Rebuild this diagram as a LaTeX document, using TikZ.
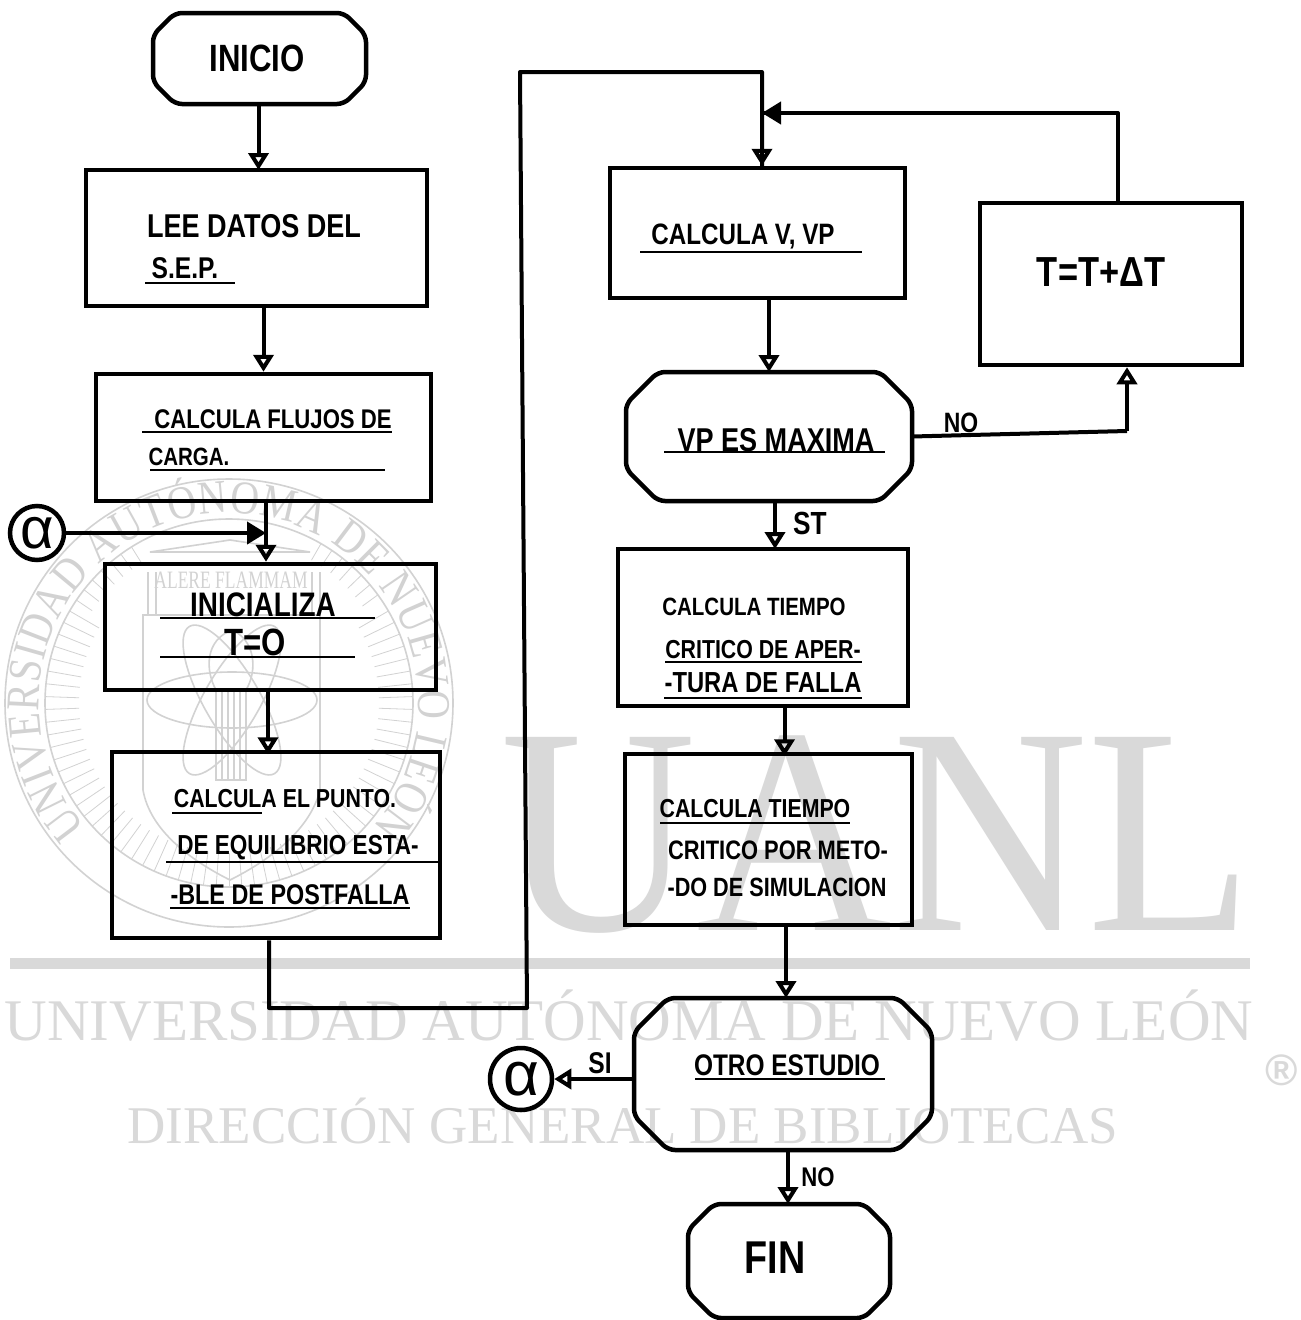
\documentclass[tikz,border=0pt]{standalone}
\usepackage{fontspec}
\setmainfont{Liberation Sans}
\newfontfamily\hand[FakeStretch=.82]{Liberation Sans}
\newfontfamily\wm{Liberation Serif}
\newfontfamily\wmbig[FakeStretch=.92]{Liberation Serif}
\newfontfamily\wmnarrow[FakeStretch=.7]{Liberation Serif}
\newfontfamily\wmseal[FakeStretch=.85]{Liberation Serif}
\usetikzlibrary{arrows.meta,decorations.text,calc}
\definecolor{wmgray}{HTML}{D9D9D9}
\definecolor{sealgray}{HTML}{D2D2D2}
\tikzset{
  boxn/.style={draw=black,line width=4.5pt,rectangle,minimum width=#1,inner sep=0pt},
  boxh/.style={minimum height=#1},
  cbox/.style={rectangle,inner sep=0pt,outer sep=0pt},
  chamline/.style={draw=black,line width=4.5pt,line join=round,rounded corners=7pt},
  conn/.style={draw=black,line width=4pt},
  arr/.style={conn,-{Triangle[open,length=17pt,width=20pt,line width=4pt]}},
  arrf/.style={conn,-{Triangle[length=19pt,width=22pt]}},
  hw/.style={font=\hand\bfseries\fontsize{#1}{#1}\selectfont,text=black,inner sep=0pt},
  ul/.style={draw=black,line width=1.6pt},
  alph/.style={draw=black,line width=4.5pt,circle,inner sep=0pt,font=\fontsize{#1}{#1}\selectfont},
  wmt/.style={text=wmgray,inner sep=0pt,anchor=base},
  seal/.style={draw=sealgray,line width=1.6pt},
}
\newcommand{\chamf}[2]{%
  \draw[chamline] ($(#1.north west)+(#2,0)$) -- ($(#1.north east)+(-#2,0)$)
    -- ($(#1.north east)+(0,#2)$) -- ($(#1.south east)+(0,-#2)$)
    -- ($(#1.south east)+(-#2,0)$) -- ($(#1.south west)+(#2,0)$)
    -- ($(#1.south west)+(0,-#2)$) -- ($(#1.north west)+(0,#2)$) -- cycle;}
\begin{document}
\begin{tikzpicture}[x=1pt,y=-1pt]
\fill[white] (0,0) rectangle (1301,1320);
\useasboundingbox (0,0) rectangle (1301,1320);
% ---- watermark
\node[wmt,font=\wmbig\fontsize{295}{295}\selectfont] (wuanl) at (877,930) {UANL};
\fill[wmgray] (10,958) rectangle (1250,969);
\node[wmt,font=\wm\fontsize{59}{59}\selectfont] (wuniv) at (629,1040) {UNIVERSIDAD AUTÓNOMA DE NUEVO LEÓN};
\node[wmt,font=\wm\fontsize{53}{53}\selectfont] (wdir) at (623,1143) {DIRECCIÓN GENERAL DE BIBLIOTECAS};
\node[wmt,font=\bfseries\fontsize{44}{44}\selectfont] (wreg) at (1282,1085) {®};
% seal
\coordinate (sc) at (229,703);
\draw[seal] (sc) circle (224);
\draw[seal] (sc) circle (184);
\foreach \a in {-30,-26,...,210}{
  \draw[sealgray,line width=.8pt] ($(sc)+(\a:184)$) -- ($(sc)+(\a:150)$);
}
\foreach \a in {214,218,...,240,300,304,...,326}{
  \draw[sealgray,line width=.8pt] ($(sc)+(\a:184)$) -- ($(sc)+(\a:165)$);
}
\path[shift={(229,703)},decorate,decoration={text along path,text align={fit to path},
  text={|\wmseal\fontsize{47}{47}\selectfont\color{sealgray}|UNIVERSIDAD AUTÓNOMA DE NUEVO LEÓN}}]
  plot[domain=139:401,samples=100] (\x:190);
\draw[seal] (143,615) -- (143,790) .. controls (150,830) and (190,860) .. (230,880)
   .. controls (270,860) and (310,830) .. (320,790) -- (320,615) -- cycle;
\draw[seal] (150,552) -- (230,540) -- (310,552) -- cycle;
\foreach \x in {148,312}{\draw[seal] (\x,572) -- (\x,615);\draw[seal] (\x+8,572) -- (\x+8,615);}
\node[text=sealgray,inner sep=0pt,font=\wmnarrow\fontsize{25}{25}\selectfont] (wal) at (231,580) {ALERE FLAMMAM};
\foreach \r in {0,60,120}{
  \draw[seal] (232,700) ellipse[x radius=85,y radius=28,rotate=\r];
}
\draw[seal] (216,690) rectangle (246,780);
\foreach \x in {222,228,234,240}{\draw[seal] (\x,690) -- (\x,780);}
\draw[seal] (232,630) .. controls (205,640) and (205,670) .. (216,690) -- (246,690) .. controls (258,670) and (255,640) .. (232,630);
% ---- boxes
\node[cbox,minimum width=213,minimum height=91] (ini) at (259.5,58.5) {};
\chamf{ini}{22}
\node[boxn=341,boxh=136] (lee) at (256.5,238) {};
\node[boxn=335,boxh=127] (flu) at (263.5,437.5) {};
\node[boxn=331,boxh=126] (inz) at (270.5,627) {};
\node[boxn=328,boxh=186] (pto) at (276,845) {};
\node[alph=58,minimum size=54] (a1) at (37,533) {α};
\node[boxn=295,boxh=130] (cv) at (757.5,233) {};
\node[cbox,minimum width=286,minimum height=129] (vp) at (769,436.5) {};
\chamf{vp}{32}
\node[boxn=262,boxh=162] (tt) at (1111,284) {};
\node[boxn=290,boxh=157] (ct) at (763,627.5) {};
\node[boxn=287,boxh=171] (cs) at (768.5,839.5) {};
\node[cbox,minimum width=298,minimum height=152] (ot) at (783,1074) {};
\chamf{ot}{34}
\node[cbox,minimum width=202,minimum height=114] (fin) at (789,1261) {};
\chamf{fin}{26}
\node[alph=62,minimum size=62] (a2) at (521,1079) {α};
% ---- labels
\node[hw=38] (t1) at (257,58) {INICIO};
\node[hw=33] (t2) at (254,226) {LEE DATOS DEL};
\node[hw=30] (t3) at (185,268) {S.E.P.};
\node[hw=27] (t4) at (273,419) {CALCULA FLUJOS DE};
\node[hw=25] (t5) at (189,457) {CARGA.};
\node[hw=34] (t6) at (263,605) {INICIALIZA};
\node[hw=38] (t7) at (255,642) {T=O};
\node[hw=26] (t8) at (285,799) {CALCULA EL PUNTO.};
\node[hw=27.5] (t9) at (298,848) {DE EQUILIBRIO ESTA-};
\node[hw=28.5] (t10) at (290,895) {-BLE DE POSTFALLA};
\node[hw=29.5] (t11) at (743,236) {CALCULA V, VP};
\node[hw=33] (t12) at (776,440) {VP ES MAXIMA};
\node[hw=42] (t13) at (1101,272) {T=T+ΔT};
\node[hw=28] (t14) at (961,423) {NO};
\node[hw=32] (t15) at (810,523) {ST};
\node[hw=25] (t16) at (754,607) {CALCULA TIEMPO};
\node[hw=26] (t17) at (763,650) {CRITICO DE APER-};
\node[hw=29] (t18) at (763,683) {-TURA DE FALLA};
\node[hw=26] (t19) at (755,809) {CALCULA TIEMPO};
\node[hw=26.7] (t20) at (778,850) {CRITICO POR METO-};
\node[hw=26.4] (t21) at (777,887) {-DO DE SIMULACION};
\node[hw=29.8] (t22) at (787,1065) {OTRO ESTUDIO};
\node[hw=30] (t23) at (600,1063) {SI};
\node[hw=27] (t24) at (818,1177) {NO};
\node[hw=46] (t25) at (775,1258) {FIN};
% ---- hand-ruled underlines under the texts
\foreach \xa/\xb/\yy in {145/235/283,142/392/432,150/385/470,160/375/618,160/355/657,172/262/813,166/438/862,170/410/908,640/862/252,664/885/452,695/885/1079,665/862/662,664/862/698,660/850/823}{
  \draw[ul] (\xa,\yy) -- (\xb,\yy);
}
% ---- connectors
\coordinate (j1) at (266,533);
\coordinate (j2) at (269,1008);
\coordinate (j3) at (527,1008);
\coordinate (j4) at (520,72);
\coordinate (j5) at (762,72);
\coordinate (j6) at (762,113);
\coordinate (j7) at (1118,113);
\coordinate (j8) at (1127,431);
\draw[arr] (ini.south -| lee.north) ++(2,0) -- ++(0,66);
\draw[arr] (lee.south -| flu.north) -- (flu.north);
\draw[arr] (flu.south -| j1) -- (j1 |- inz.north);
\draw[arrf] (a1.east) -- (j1);
\draw[arr] (inz.south -| pto.north) ++(-8,0) -- ++(0,62);
\draw[conn,line join=round] (j2 |- pto.south) -- (j2) -- (j3) -- (j4) -- (j5) -- (j5 |- cv.north);
\draw[arr] (j6) -- (j6 |- cv.north);
\draw[conn,line join=round] (j7 |- tt.north) -- (j7) -- (j6);
\draw[arrf] (j7) -- (j6);
\draw[arr] (cv.south -| vp.north) -- (vp.north);
\draw[conn,line join=round] (vp.east) -- (j8);
\draw[arr] (j8) -- (j8 |- tt.south);
\draw[arr] (vp.south -| ct.north) ++(12,0) -- ++(0,48);
\draw[arr] (ct.south -| cs.north) ++(16,0) -- ++(0,48);
\draw[arr] (cs.south -| ot.north) ++(3,0) -- (786,998);
\draw[arr] (ot.west) ++(0,5) -- (a2.east);
\draw[arr] (ot.south) ++(5,0) -- (788,1204);
\end{tikzpicture}
\end{document}
